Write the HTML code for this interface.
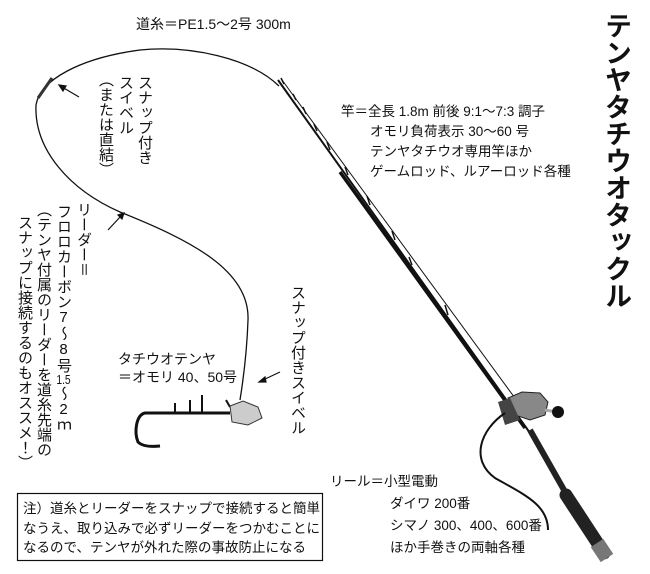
<!DOCTYPE html>
<html><head><meta charset="utf-8"><style>
body{margin:0;width:650px;height:574px;background:#fff;overflow:hidden;position:relative;font-family:"Liberation Sans","Noto Sans CJK JP",sans-serif;color:#111}
.t{position:absolute;font-size:13.5px;white-space:nowrap;line-height:1}
.v{position:absolute;writing-mode:vertical-rl;text-orientation:upright;font-size:15px;line-height:1;white-space:nowrap;letter-spacing:0}
.c{text-combine-upright:all;font-size:13px}
</style></head><body>
<svg width="650" height="574" style="position:absolute;left:0;top:0">
<path d="M279,86 C250,58 190,45 140,50 C80,58 40,80 36,105 C34,150 70,190 120,212 C190,240 250,270 248,320 C247,350 244,375 240,400" fill="none" stroke="#111" stroke-width="1.3"/>
<path d="M38,98 L52,78" stroke="#333" stroke-width="3"/>
<g stroke="#111" stroke-width="1.2" fill="#111">
<line x1="79" y1="97" x2="62" y2="87"/><polygon points="59,85 66,86 63,91"/>
<line x1="108" y1="230" x2="121" y2="216"/><polygon points="124,213 118,215 122,219"/>
<line x1="280" y1="372" x2="263" y2="380"/><polygon points="259,382 265,377 266,382"/>
</g>
<line x1="278" y1="80" x2="535" y2="440" stroke="#111" stroke-width="2"/>
<line x1="282" y1="80" x2="520" y2="405" stroke="#111" stroke-width="1"/>
<line x1="340" y1="172" x2="525" y2="428" stroke="#111" stroke-width="3.5"/>
<line x1="530" y1="430" x2="568" y2="497" stroke="#222" stroke-width="6"/>
<line x1="566" y1="495" x2="604" y2="553" stroke="#222" stroke-width="13" stroke-linecap="round"/>
<line x1="597" y1="543" x2="607" y2="558" stroke="#777" stroke-width="15"/>
<g stroke="#111" stroke-width="1.5">
<line x1="284" y1="84" x2="281" y2="78"/><line x1="296" y1="100" x2="293" y2="94"/><line x1="306" y1="114" x2="303" y2="107"/>
<line x1="317" y1="131" x2="314" y2="124"/><line x1="330" y1="150" x2="327" y2="142"/><line x1="348" y1="175" x2="345" y2="167"/>
<line x1="370" y1="205" x2="367" y2="196"/><line x1="395" y1="240" x2="392" y2="231"/><line x1="412" y1="265" x2="409" y2="257"/>
<line x1="448" y1="315" x2="445" y2="305"/>
</g>
<path d="M508,398 L522,392 L540,393 L548,402 L545,415 L530,420 L515,415 Z" fill="#888" stroke="#222"/>
<path d="M498,402 L510,398 L520,420 L505,425 Z" fill="#444"/>
<line x1="545" y1="410" x2="557" y2="412" stroke="#aaa" stroke-width="3"/>
<circle cx="558" cy="412" r="6" fill="#111"/>
<path d="M505,413 C480,430 470,460 495,478 C525,495 548,505 548,530" fill="none" stroke="#111" stroke-width="2"/>
<path d="M230,413 L145,413 C136,415 134,432 138,442 C142,446 150,447 160,446" fill="none" stroke="#111" stroke-width="3"/>
<g stroke="#111" stroke-width="2"><line x1="175" y1="412" x2="175" y2="403"/><line x1="190" y1="412" x2="190" y2="400"/><line x1="202" y1="412" x2="202" y2="395"/><line x1="230" y1="407" x2="226" y2="400"/></g>
<path d="M230,406 L243,401 L258,407 L262,418 L248,425 L232,422 Z" fill="#ccc" stroke="#333"/>
<rect x="17.5" y="493.5" width="305" height="67" fill="none" stroke="#111" stroke-width="1.2"/>
</svg>
<div class="t" style="left:136px;top:17px;font-size:14px">道糸＝PE1.5～2号 300m</div>
<div class="v" style="left:137px;top:75px">スナップ付き</div>
<div class="v" style="left:118px;top:75px">スイベル</div>
<div class="v" style="left:98px;top:72px">（または直結）</div>
<div class="v" style="left:76px;top:202px">リーダー＝</div>
<div class="v" style="left:56px;top:204px">フロロカーボン7～8号<span class="c">1.5</span>～2ｍ</div>
<div class="v" style="left:36px;top:202px">（テンヤ付属のリーダーを道糸先端の</div>
<div class="v" style="left:17px;top:215px">スナップに接続するのもオススメ！）</div>
<div class="v" style="left:290px;top:285px">スナップ付きスイベル</div>
<div class="v" style="left:602px;top:12px;font-size:27px;font-weight:bold">テンヤタチウオタックル</div>
<div class="t" style="left:341px;top:105px">竿＝全長 1.8m 前後 9:1～7:3 調子</div>
<div class="t" style="left:370px;top:125px">オモリ負荷表示 30～60 号</div>
<div class="t" style="left:370px;top:145px">テンヤタチウオ専用竿ほか</div>
<div class="t" style="left:370px;top:165px">ゲームロッド、ルアーロッド各種</div>
<div class="t" style="left:118px;top:352px;font-size:14px">タチウオテンヤ</div>
<div class="t" style="left:118px;top:370px;font-size:14px">＝オモリ 40、50号</div>
<div class="t" style="left:330px;top:475px">リール＝小型電動</div>
<div class="t" style="left:390px;top:497px">ダイワ 200番</div>
<div class="t" style="left:390px;top:519px">シマノ 300、400、600番</div>
<div class="t" style="left:390px;top:541px">ほか手巻きの両軸各種</div>
<div class="t" style="left:23px;top:499px;line-height:19.5px;font-size:13.5px">注）道糸とリーダーをスナップで接続すると簡単<br>なうえ、取り込みで必ずリーダーをつかむことに<br>なるので、テンヤが外れた際の事故防止になる</div>
</body></html>
